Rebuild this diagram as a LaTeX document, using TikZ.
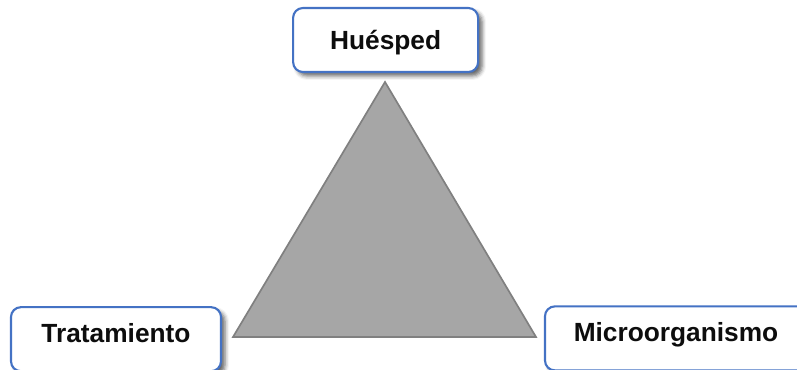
\documentclass[tikz,border=0pt]{standalone}
\usepackage{fontspec}
\setmainfont{Liberation Sans}
\usetikzlibrary{shadows.blur}
\definecolor{Frame}{HTML}{4472C4}
\definecolor{Wedge}{HTML}{A6A6A6}
\definecolor{WedgeLine}{HTML}{808080}
\definecolor{Ink}{HTML}{0D0D0D}

\tikzset{
  factor/.style={draw=Frame,line width=1.5pt,fill=white,rounded corners=7pt,
    font=\bfseries\fontsize{18.7}{22}\selectfont,text=Ink,
    text height=13.5pt,text depth=0pt,inner sep=0pt,
    blur shadow={shadow xshift=0.1cm,shadow yshift=-0.1cm,shadow blur radius=0.1cm,shadow opacity=60}},
  lowfactor/.style={factor,text depth=0.3cm}
}

\begin{document}
\begin{tikzpicture}
\useasboundingbox (0,0) rectangle (19.925,9.25);
\clip (0,0) rectangle (19.925,9.25);
% triangle between the three factors
\coordinate (top) at (9.625,7.2);
\coordinate (left) at (5.825,0.825);
\coordinate (right) at (13.4,0.825);
\filldraw[fill=Wedge,draw=WedgeLine,line width=1.2pt,line join=miter] (left)--(top)--(right)--cycle;
% the three factors
\node[factor,minimum width=4.625cm,minimum height=1.6cm] (huesped) at (9.64,8.25){Huésped};
\node[lowfactor,minimum width=5.25cm,minimum height=1.6cm] (tratamiento) at (2.9,0.77){Tratamiento};
\node[lowfactor,minimum width=6.55cm,minimum height=1.6cm] (microorg) at (16.9,0.79){Microorganismo};
\end{tikzpicture}
\end{document}
